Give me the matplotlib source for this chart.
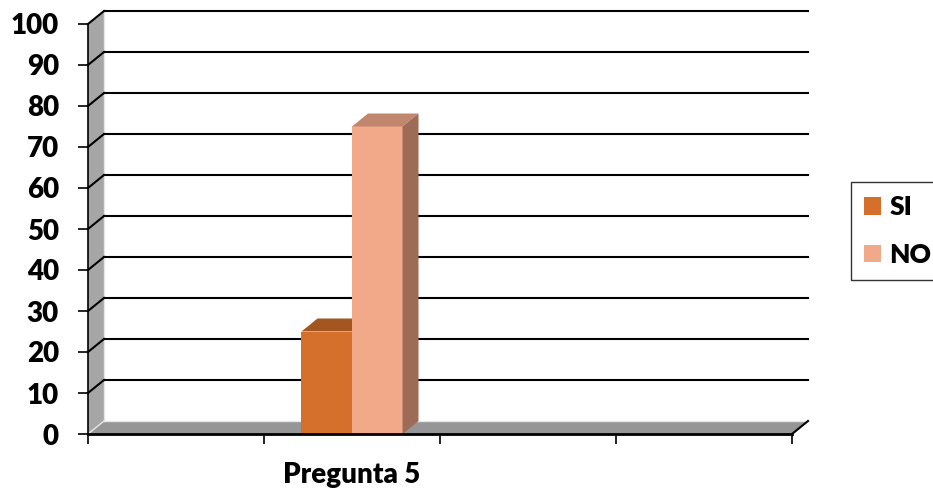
import numpy as np
import matplotlib.pyplot as plt
from matplotlib.patches import Polygon, Patch

# datos del grafico
categorias = ['', 'Pregunta 5', '', '']
series = ['SI', 'NO']
valores_si = [None, 25, None, None]
valores_no = [None, 75, None, None]

colores_frente = ['#D4702C', '#F1A98A']
colores_arriba = ['#A3561F', '#C0866E']
colores_lado = ['#8E4A1B', '#9E6B57']

plt.rcParams['font.family'] = ['Lato', 'DejaVu Sans']
plt.rcParams['font.weight'] = 'heavy'

fig = plt.figure(figsize=(9.33, 4.9), dpi=100)
ax = fig.add_axes([88/933, (490-434)/490, 704/933, 410/490])
ax.set_facecolor('none')

ncat = len(categorias)
ax.set_xlim(0, ncat)
ax.set_ylim(0, 100)

# profundidad del efecto 3D en unidades de datos
dx = 16/176
dy = 13/4.1

# pared izquierda y piso
pared = Polygon([[0, 0], [dx, dy], [dx, 100 + dy], [0, 100]], closed=True,
                facecolor='#A6A6A6', edgecolor='none', clip_on=False, zorder=0)
piso = Polygon([[0, 0], [ncat, 0], [ncat + dx, dy], [dx, dy]], closed=True,
               facecolor='#969696', edgecolor='none', clip_on=False, zorder=0)
ax.add_patch(pared)
ax.add_patch(piso)
ax.plot([dx, dx], [dy, 100 + dy], color='#E6E6E6', lw=1, clip_on=False, zorder=1)
ax.plot([dx, ncat + dx], [dy, dy], color='#E6E6E6', lw=1, clip_on=False, zorder=1)
ax.plot([0, dx], [0, dy], color='#E6E6E6', lw=1, clip_on=False, zorder=1)
ax.plot([ncat, ncat + dx], [0, dy], color='black', lw=1.5, clip_on=False, zorder=2)

# lineas de division
for v in range(10, 101, 10):
    ax.plot([dx, ncat + dx], [v + dy, v + dy], color='black', lw=1.5,
            clip_on=False, zorder=1)
    ax.plot([0, dx], [v, v + dy], color='black', lw=1.5, clip_on=False, zorder=1)

# barras
ancho = 0.287
for k, vals in enumerate([valores_si, valores_no]):
    xs = [i + 0.5 - ancho + k*ancho for i in range(ncat) if vals[i] is not None]
    hs = [vals[i] for i in range(ncat) if vals[i] is not None]
    ax.bar(xs, hs, ancho, align='edge', color=colores_frente[k],
           label=series[k], zorder=3 + k)
    for x0, h in zip(xs, hs):
        arriba = Polygon([[x0, h], [x0 + ancho, h], [x0 + ancho + dx, h + dy],
                          [x0 + dx, h + dy]], closed=True,
                         facecolor=colores_arriba[k], edgecolor='none',
                         clip_on=False, zorder=3 + k)
        lado = Polygon([[x0 + ancho, 0], [x0 + ancho + dx, dy],
                        [x0 + ancho + dx, h + dy], [x0 + ancho, h]], closed=True,
                       facecolor=colores_lado[k], edgecolor='none',
                       clip_on=False, zorder=3 + k)
        ax.add_patch(arriba)
        ax.add_patch(lado)

# ejes
for s in ['top', 'right']:
    ax.spines[s].set_visible(False)
ax.spines['left'].set_linewidth(1.2)
ax.spines['bottom'].set_linewidth(2)
ax.spines['left'].set_zorder(6)
ax.spines['bottom'].set_zorder(6)

ax.set_yticks(range(0, 101, 10))
ax.tick_params(axis='y', length=7, width=1.2, pad=14, labelsize=20)
ax.set_xticks(range(ncat + 1))
ax.set_xticklabels([])
ax.set_xticks(np.arange(ncat) + 0.5, minor=True)
ax.set_xticklabels(categorias, minor=True, fontsize=20, fontweight='heavy')
ax.tick_params(axis='x', which='major', length=7, width=1.2)
ax.tick_params(axis='x', which='minor', length=0, pad=20)
for t in ax.get_yticklabels():
    t.set_fontweight('heavy')

handles = [Patch(facecolor=colores_frente[k], label=series[k]) for k in range(2)]
leg = fig.legend(handles=handles, loc='upper left',
                 bbox_to_anchor=(851/933, 1 - 182/490), fontsize=19,
                 frameon=True, fancybox=False, edgecolor='black',
                 handlelength=0.65, handleheight=0.65, labelspacing=0.9,
                 handletextpad=0.3, borderpad=0.5, borderaxespad=0)
leg.get_frame().set_linewidth(1)

plt.savefig('out.png', dpi=100)
